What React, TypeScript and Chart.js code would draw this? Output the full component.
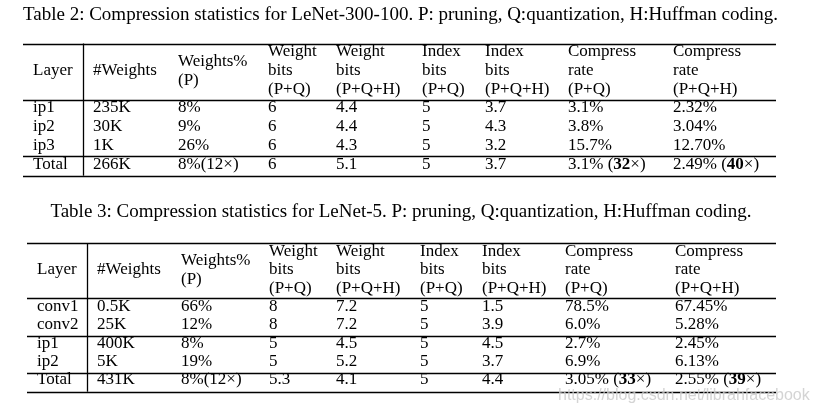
import React, { useEffect, useRef } from "react";
import { Chart, registerables } from "chart.js";

Chart.register(...registerables);

// ---------- data ----------
const caption2 = "Table 2: Compression statistics for LeNet-300-100. P: pruning, Q:quantization, H:Huffman coding.";
const caption3 = "Table 3: Compression statistics for LeNet-5. P: pruning, Q:quantization, H:Huffman coding.";

const headers: string[][] = [
  ["Layer"],
  ["#Weights"],
  ["Weights%", "(P)"],
  ["Weight", "bits", "(P+Q)"],
  ["Weight", "bits", "(P+Q+H)"],
  ["Index", "bits", "(P+Q)"],
  ["Index", "bits", "(P+Q+H)"],
  ["Compress", "rate", "(P+Q)"],
  ["Compress", "rate", "(P+Q+H)"],
];

// Table 2 (LeNet-300-100)
const layers2 = ["ip1", "ip2", "ip3", "Total"];
const weights2 = ["235K", "30K", "1K", "266K"];
const weightsPct2 = ["8%", "9%", "26%", "8%(12×)"];
const weightBitsPQ2 = ["6", "6", "6", "6"];
const weightBitsPQH2 = ["4.4", "4.4", "4.3", "5.1"];
const indexBitsPQ2 = ["5", "5", "5", "5"];
const indexBitsPQH2 = ["3.7", "4.3", "3.2", "3.7"];
const compressPQ2 = ["3.1%", "3.8%", "15.7%", "3.1% (**32**×)"];
const compressPQH2 = ["2.32%", "3.04%", "12.70%", "2.49% (**40**×)"];

// Table 3 (LeNet-5)
const layers3 = ["conv1", "conv2", "ip1", "ip2", "Total"];
const weights3 = ["0.5K", "25K", "400K", "5K", "431K"];
const weightsPct3 = ["66%", "12%", "8%", "19%", "8%(12×)"];
const weightBitsPQ3 = ["8", "8", "5", "5", "5.3"];
const weightBitsPQH3 = ["7.2", "7.2", "4.5", "5.2", "4.1"];
const indexBitsPQ3 = ["5", "5", "5", "5", "5"];
const indexBitsPQH3 = ["1.5", "3.9", "4.5", "3.7", "4.4"];
const compressPQ3 = ["78.5%", "6.0%", "2.7%", "6.9%", "3.05% (**33**×)"];
const compressPQH3 = ["67.45%", "5.28%", "2.45%", "6.13%", "2.55% (**39**×)"];

const watermark = "https://blog.csdn.net/librahfacebook";

// ---------- layout ----------
const W = 817;
const H = 413;
const FONT = '"Liberation Serif", "Times New Roman", serif';
const FS = 17;
const CAP_FS = 19;

type TableLayout = {
  caption: string;
  captionX: number;
  captionY: number;
  left: number;
  right: number;
  top: number;
  headLine: number;
  seps: number[];
  bottom: number;
  vline: number;
  headCenter: number;
  headStep: number;
  rowYs: number[];
  colX: number[];
  columns: string[][];
};

const tables: TableLayout[] = [
  {
    caption: caption2,
    captionX: 400.5,
    captionY: 15,
    left: 23,
    right: 776,
    top: 43.5,
    headLine: 100,
    seps: [155.7],
    bottom: 175.7,
    vline: 82.7,
    headCenter: 71,
    headStep: 19,
    rowYs: [108, 127, 146, 164.5],
    colX: [33, 93, 178, 268, 336, 422, 485, 568, 673],
    columns: [layers2, weights2, weightsPct2, weightBitsPQ2, weightBitsPQH2, indexBitsPQ2, indexBitsPQH2, compressPQ2, compressPQH2],
  },
  {
    caption: caption3,
    captionX: 401,
    captionY: 212,
    left: 27,
    right: 776,
    top: 243.3,
    headLine: 298.3,
    seps: [336, 373.3],
    bottom: 391.7,
    vline: 87.3,
    headCenter: 270,
    headStep: 18.6,
    rowYs: [306.7, 324.5, 343.3, 361.7, 380],
    colX: [37, 97, 181, 269, 336, 420, 482, 565, 675],
    columns: [layers3, weights3, weightsPct3, weightBitsPQ3, weightBitsPQH3, indexBitsPQ3, indexBitsPQH3, compressPQ3, compressPQH3],
  },
];

function drawRich(ctx: CanvasRenderingContext2D, text: string, x: number, y: number) {
  const parts = text.split("**");
  let cx = x;
  parts.forEach((p, i) => {
    ctx.font = (i % 2 === 1 ? "bold " : "") + FS + "px " + FONT;
    ctx.fillText(p, cx, y);
    cx += ctx.measureText(p).width;
  });
}

const tablePlugin = {
  id: "tablePlugin",
  afterDraw(chart: any) {
    const ctx: CanvasRenderingContext2D = chart.ctx;
    const sx = chart.scales.x;
    const sy = chart.scales.y;
    const px = (v: number) => sx.getPixelForValue(v);
    const py = (v: number) => sy.getPixelForValue(v);
    ctx.save();
    ctx.fillStyle = "#000";
    ctx.strokeStyle = "#000";
    ctx.textBaseline = "middle";
    tables.forEach((t) => {
      // caption
      ctx.font = CAP_FS + "px " + FONT;
      ctx.textAlign = "center";
      ctx.fillText(t.caption, px(t.captionX), py(t.captionY));
      ctx.textAlign = "left";
      // rules
      ctx.lineWidth = 1.3;
      [t.top, t.headLine, ...t.seps, t.bottom].forEach((yy) => {
        ctx.beginPath();
        ctx.moveTo(px(t.left), Math.round(py(yy)) + 0.5);
        ctx.lineTo(px(t.right), Math.round(py(yy)) + 0.5);
        ctx.stroke();
      });
      ctx.beginPath();
      ctx.moveTo(Math.round(px(t.vline)) + 0.5, py(t.top));
      ctx.lineTo(Math.round(px(t.vline)) + 0.5, py(t.bottom));
      ctx.stroke();
      // headers
      headers.forEach((lines, c) => {
        const n = lines.length;
        lines.forEach((ln, k) => {
          const yy = t.headCenter + (k - (n - 1) / 2) * t.headStep;
          ctx.font = FS + "px " + FONT;
          ctx.fillText(ln, px(t.colX[c]), py(yy));
        });
      });
      // cells
      t.columns.forEach((col, c) => {
        col.forEach((val, r) => {
          drawRich(ctx, val, px(t.colX[c]), py(t.rowYs[r]));
        });
      });
    });
    // watermark
    ctx.font = '16px "Liberation Sans", Arial, sans-serif';
    ctx.fillStyle = "rgba(205,205,205,0.85)";
    ctx.textAlign = "left";
    ctx.fillText(watermark, px(558), py(396));
    ctx.restore();
  },
};

export default function App() {
  const ref = useRef<HTMLCanvasElement | null>(null);
  useEffect(() => {
    if (!ref.current) return;
    const chart = new Chart(ref.current, {
      type: "scatter",
      data: { datasets: [{ data: [] }] },
      options: {
        animation: false,
        responsive: false,
        maintainAspectRatio: false,
        layout: { padding: 0 },
        plugins: { legend: { display: false }, tooltip: { enabled: false } },
        scales: {
          x: { type: "linear", min: 0, max: W, display: false },
          y: { type: "linear", min: 0, max: H, reverse: true, display: false },
        },
      },
      plugins: [tablePlugin],
    });
    return () => chart.destroy();
  }, []);
  return (
    <div style={{ position: "fixed", left: 0, top: 0, width: W, height: H, background: "#fff" }}>
      <canvas ref={ref} width={W} height={H} style={{ width: W, height: H, display: "block" }} />
    </div>
  );
}
